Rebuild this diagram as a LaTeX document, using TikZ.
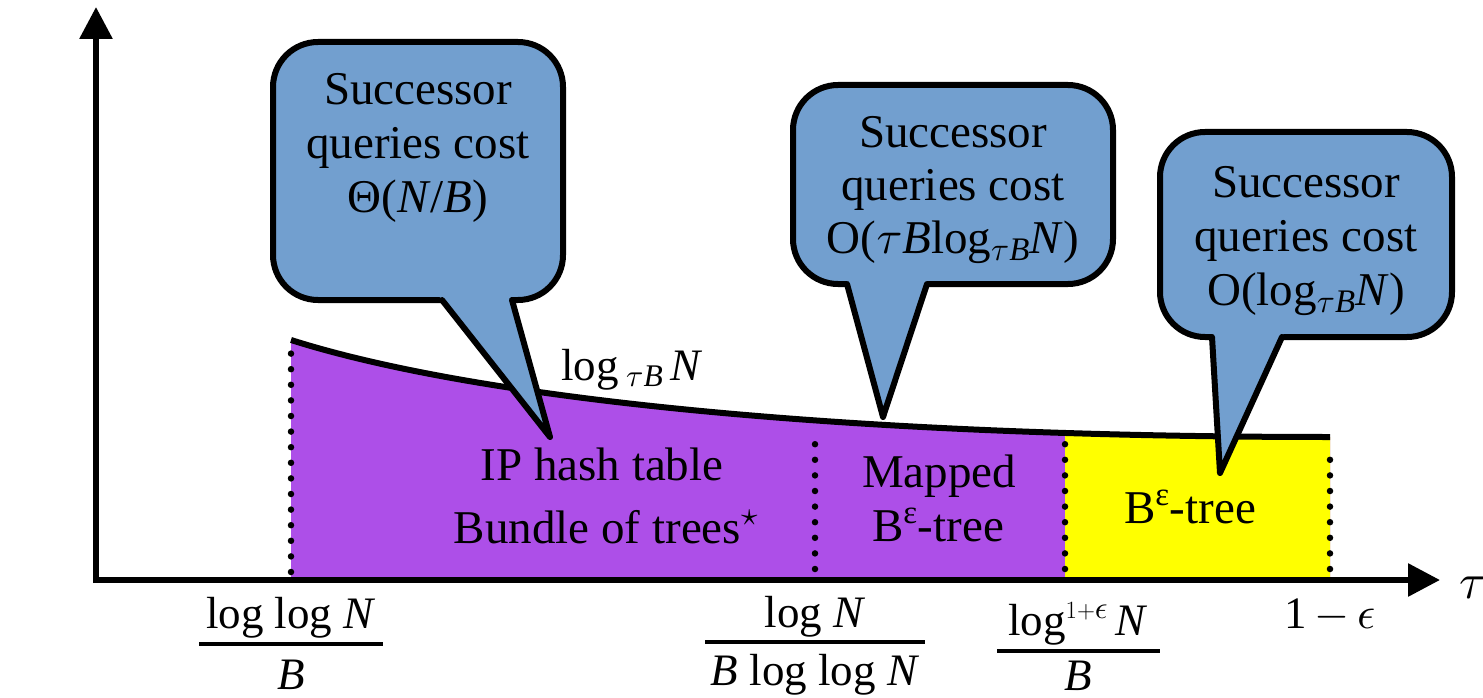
\documentclass[tikz,border=0pt]{standalone}
\DeclareFontShape{OML}{cmm}{m}{it}{<->cmmi10}{\skewchar\font'177}
\DeclareFontShape{OMS}{cmsy}{m}{n}{<->cmsy10}{\skewchar\font'60}
\DeclareFontShape{OMX}{cmex}{m}{n}{<->cmex10}{}
\usepackage{amsmath}
\usepackage{fontspec}
\setmainfont{Liberation Serif}
\usetikzlibrary{arrows.meta,calc}
\definecolor{calloutblue}{HTML}{729FCF}
\definecolor{regpurple}{HTML}{AD4FE8}
\definecolor{regyellow}{HTML}{FFFF00}
\begin{document}
\begin{tikzpicture}[x=1pt,y=-1pt,
  callout/.style={draw=black, line width=6pt, fill=calloutblue, rounded corners=45pt},
  pointerfill/.style={fill=calloutblue},
  pointerside/.style={draw=black, line width=6pt, line join=round, line cap=round},
  axisline/.style={line width=6pt, -{Triangle[length=32pt,width=32pt]}},
  dotline/.style={line width=6.5pt, line cap=round, dash pattern=on 0pt off 15.6pt},
  txt/.style={font=\fontsize{47}{54}\selectfont, anchor=base, inner sep=0pt},
  mtxt/.style={font=\fontsize{45}{52}\selectfont, anchor=base, inner sep=0pt},
  fracbar/.style={line width=4pt}]
\useasboundingbox (0,0) rectangle (1483,698);

% regions
\fill[regpurple] (291,580) -- (291,340) .. controls (480,400) and (850,437) .. (1330,437) -- (1330,580) -- cycle;
\begin{scope}
  \clip (1065,300) rectangle (1340,600);
  \fill[regyellow] (291,580) -- (291,340) .. controls (480,400) and (850,437) .. (1330,437) -- (1330,580) -- cycle;
\end{scope}

% curve
\coordinate (cs) at (291,340);
\coordinate (ce) at (1330,437);
\draw[line width=6pt] (cs) .. controls (480,400) and (850,437) .. (ce);

% dotted separators
\coordinate (d1t) at (291,352); \coordinate (d1b) at (291,572);
\coordinate (d2t) at (815,429); \coordinate (d2b) at (815,569);
\coordinate (d3t) at (1065,441); \coordinate (d3b) at (1065,569);
\coordinate (d4t) at (1330,445); \coordinate (d4b) at (1330,569);
\draw[dotline] (d1b) -- (d1t);
\draw[dotline] (d2b) -- (d2t);
\draw[dotline] (d3b) -- (d3t);
\draw[dotline] (d4b) -- (d4t);

% axes
\coordinate (o) at (96,583);
\coordinate (ox) at (93,580);
\coordinate (ytip) at (96,7);
\coordinate (xtip) at (1440,580);
\draw[axisline] (o) -- (ytip);
\draw[axisline] (ox) -- (xtip);
\node[mtxt, font=\fontsize{50}{54}\selectfont] (tau) at (1473,598) {$\tau$};

% curve label
\node[mtxt, anchor=base west] (loglab) at (561,380) {log\,$_{\tau \textit{B}}$\,\textit{N}};

% region labels
\node[txt] (ip1) at (602,480) {IP hash table};
\node[txt] (ip2) at (606,543) {Bundle of trees$^{\star}$};
\node[txt] (mp1) at (939,487) {Mapped};
\node[txt] (mp2) at (938,541) {B\textsuperscript{ε}-tree};
\node[txt] (be) at (1190,523) {B\textsuperscript{ε}-tree};

% x-axis tick labels
\node[mtxt] (f1n) at (291,628) {log log \textit{N}};
\node[mtxt] (f1d) at (291,689) {\textit{B}};
\coordinate (f1a) at (199,644); \coordinate (f1b) at (383,644);
\draw[fracbar] (f1a) -- (f1b);

\node[mtxt] (f2n) at (815,627) {log \textit{N}};
\node[mtxt] (f2d) at (815,685) {\textit{B} log log \textit{N}};
\coordinate (f2a) at (705,642); \coordinate (f2b) at (925,642);
\draw[fracbar] (f2a) -- (f2b);

\node[mtxt] (f3n) at (1078,635) {log$^{1+\epsilon}$\,\textit{N}};
\node[mtxt] (f3d) at (1078,690) {\textit{B}};
\coordinate (f3a) at (997,651); \coordinate (f3b) at (1160,651);
\draw[fracbar] (f3a) -- (f3b);

\node[mtxt] (oneeps) at (1330,628) {1$\,-\,\epsilon$};

% callout 1
\coordinate (t1) at (550,437);
\coordinate (p1a) at (442,300); \coordinate (p1b) at (512,300);
\draw[callout] (273,42) rectangle (563,300);
\fill[pointerfill] ($(t1)!1.1!(p1a)$) -- (t1) -- ($(t1)!1.1!(p1b)$) -- cycle;
\draw[pointerside] (p1a) -- (t1) -- (p1b);
\node[txt] (c1a) at (418,105) {Successor};
\node[txt] (c1b) at (418,158) {queries cost};
\node[txt] (c1c) at (418,212) {Θ(\textit{N}/\textit{B})};

% callout 2
\coordinate (t2) at (883,417);
\coordinate (p2a) at (847,284); \coordinate (p2b) at (927,284);
\draw[callout] (793,85) rectangle (1113,284);
\fill[pointerfill] ($(t2)!1.1!(p2a)$) -- (t2) -- ($(t2)!1.1!(p2b)$) -- cycle;
\draw[pointerside] (p2a) -- (t2) -- (p2b);
\node[txt] (c2a) at (953,147) {Successor};
\node[txt] (c2b) at (953,200) {queries cost};
\node[txt] (c2c) at (953,253) {O($\tau$\textit{B}log$_{\tau\textit{B}}$\textit{N})};

% callout 3
\coordinate (t3) at (1220,473);
\coordinate (p3a) at (1212,337); \coordinate (p3b) at (1282,337);
\draw[callout] (1160,132) rectangle (1452,337);
\fill[pointerfill] ($(t3)!1.1!(p3a)$) -- (t3) -- ($(t3)!1.1!(p3b)$) -- cycle;
\draw[pointerside] (p3a) -- (t3) -- (p3b);
\node[txt] (c3a) at (1306,197) {Successor};
\node[txt] (c3b) at (1306,251) {queries cost};
\node[txt] (c3c) at (1306,305) {O(log$_{\tau\textit{B}}$\textit{N})};
\end{tikzpicture}
\end{document}
